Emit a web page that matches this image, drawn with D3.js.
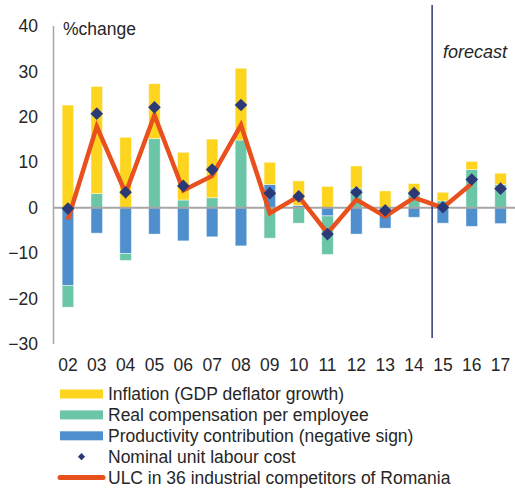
<!DOCTYPE html>
<html>
<head>
<meta charset="utf-8">
<script src="https://cdn.jsdelivr.net/npm/d3@7"></script>
<style>
  body { margin: 0; background: #fff; }
  svg { display: block; font-family: "Liberation Sans", Arial, sans-serif; }
</style>
</head>
<body>
<script>
// chart data
var years = ['02','03','04','05','06','07','08','09','10','11','12','13','14','15','16','17'];
var inflation    = [22.6, 23.6, 15.5, 12.1, 10.5, 12.9, 15.8, 4.9, 5.4, 4.7, 4.9, 3.7, 1.9, 1.9, 1.8, 2.5];
var realComp     = [-4.8, 3.1, -1.5, 15.2, 1.7, 2.2, 14.9, -6.7, -3.4, -8.5, 4.3, 0, 3.4, 1.5, 8.4, 5.1];
var productivity = [-17.1, -5.6, -10.1, -5.8, -7.3, -6.4, -8.4, 5.1, 0.5, -1.8, -5.8, -4.5, -2.1, -3.4, -4.1, -3.5];
var nominalUlc   = [-0.2, 20.7, 3.4, 22.1, 4.8, 8.4, 22.6, 3.2, 2.5, -5.8, 3.4, -0.6, 3.2, 0.1, 6.2, 4.2];
var competitors  = [-2.6, 17.9, 3.2, 20.4, 3.8, 7.0, 18.2, -1.2, 2.5, -5.6, 1.8, -1.9, 2.2, 0.0, 5.3, null];
var yTicks = [-30, -20, -10, 0, 10, 20, 30, 40];

var keys = ['prod', 'real', 'infl'];
var colors = { infl: '#FDD51F', real: '#6BC6A7', prod: '#4F8FCE' };
var legendItems = [
  { label: 'Inflation (GDP deflator growth)', kind: 'bar', color: colors.infl },
  { label: 'Real compensation per employee', kind: 'bar', color: colors.real },
  { label: 'Productivity contribution (negative sign)', kind: 'bar', color: colors.prod },
  { label: 'Nominal unit labour cost', kind: 'dot', color: '#2B3A77' },
  { label: 'ULC in 36 industrial competitors of Romania', kind: 'line', color: '#E8501E' }
];

var width = 515,
    height = 491;

var svg = d3.select('body').append('svg')
    .attr('width', width)
    .attr('height', height);

var rows = years.map(function(y, i) {
  return { year: y, infl: inflation[i], real: realComp[i], prod: productivity[i] };
});

var x = d3.scaleBand()
    .domain(years)
    .range([53.5, 515])
    .paddingInner(0.6)
    .paddingOuter(0.3);

var y = d3.scaleLinear()
    .domain([-30, 40])
    .range([344, 26]);

// stacked bars (positive and negative stacks separately)
var series = d3.stack()
    .keys(keys)
    .offset(d3.stackOffsetDiverging)(rows);

svg.append('g').selectAll('g')
    .data(series)
    .enter().append('g')
    .attr('fill', function(d) { return colors[d.key]; })
    .selectAll('rect')
    .data(function(d) { return d; })
    .enter().append('rect')
    .attr('x', function(d) { return x(d.data.year); })
    .attr('width', x.bandwidth())
    .attr('y', function(d) { return y(Math.max(d[0], d[1])); })
    .attr('height', function(d) { return Math.abs(y(d[0]) - y(d[1])); })
    .attr('stroke', 'rgba(255,255,255,0.55)')
    .attr('stroke-width', 0.8);

// y axis line and zero line
svg.append('line')
    .attr('x1', 53.5).attr('x2', 53.5)
    .attr('y1', y(40)).attr('y2', y(-30))
    .attr('stroke', '#A6A6A6').attr('stroke-width', 1.5);

svg.append('line')
    .attr('x1', 53.5).attr('x2', width)
    .attr('y1', y(0)).attr('y2', y(0))
    .attr('stroke', '#A6A6A6').attr('stroke-width', 2);

var yAxis = svg.append('g')
    .attr('transform', 'translate(38,0)')
    .call(d3.axisLeft(y).tickValues(yTicks).tickSize(0).tickPadding(0));
yAxis.select('.domain').remove();
yAxis.selectAll('text')
    .attr('font-size', 17.5)
    .attr('font-family', '"Liberation Sans", Arial, sans-serif')
    .attr('fill', '#262626');

var xAxis = svg.append('g')
    .attr('transform', 'translate(0,359)')
    .call(d3.axisBottom(x).tickSize(0).tickPadding(0));
xAxis.select('.domain').remove();
xAxis.selectAll('text')
    .attr('font-size', 17.5)
    .attr('font-family', '"Liberation Sans", Arial, sans-serif')
    .attr('fill', '#262626');

// forecast divider
var fx = x('15') - 5;
svg.append('line')
    .attr('x1', fx).attr('x2', fx)
    .attr('y1', 5).attr('y2', 338)
    .attr('stroke', '#2B3A77').attr('stroke-width', 1.5);

svg.append('text')
    .attr('x', 443).attr('y', 58)
    .attr('font-size', 18)
    .attr('font-style', 'italic')
    .attr('fill', '#262626')
    .text('forecast');

svg.append('text')
    .attr('x', 63).attr('y', 35)
    .attr('font-size', 17.5)
    .attr('fill', '#262626')
    .text('%change');

// competitors line
var line = d3.line()
    .defined(function(d) { return d != null; })
    .x(function(d, i) { return x(years[i]) + x.bandwidth() / 2; })
    .y(function(d) { return y(d); });

svg.append('path')
    .datum(competitors)
    .attr('fill', 'none')
    .attr('stroke', '#E8501E')
    .attr('stroke-width', 4.5)
    .attr('stroke-linejoin', 'miter')
    .attr('d', line);

// nominal ULC diamonds
var diamond = d3.symbol().type(d3.symbolSquare).size(80);
svg.append('g').selectAll('path')
    .data(nominalUlc)
    .enter().append('path')
    .attr('d', diamond)
    .attr('transform', function(d, i) {
        return 'translate(' + (x(years[i]) + x.bandwidth() / 2) + ',' + y(d) + ') rotate(45)'; })
    .attr('fill', '#2B3A77');

// legend
var legend = svg.append('g').selectAll('g')
    .data(legendItems)
    .enter().append('g')
    .attr('transform', function(d, i) { return 'translate(0,' + (394 + i * 20.9) + ')'; });

legend.each(function(d) {
  var g = d3.select(this);
  if (d.kind === 'bar') {
    g.append('rect').attr('x', 60).attr('y', -4.5).attr('width', 43).attr('height', 9).attr('fill', d.color);
  } else if (d.kind === 'line') {
    g.append('line').attr('x1', 60).attr('x2', 103).attr('y1', 0).attr('y2', 0)
      .attr('stroke', d.color).attr('stroke-width', 5).attr('stroke-linecap', 'round');
  } else {
    g.append('path').attr('d', d3.symbol().type(d3.symbolSquare).size(26))
      .attr('transform', 'translate(81.5,0) rotate(45)').attr('fill', d.color);
  }
  g.append('text')
    .attr('x', 108).attr('y', 0).attr('dy', '0.36em')
    .attr('font-size', 17.5)
    .attr('fill', '#262626')
    .text(d.label);
});
</script>
</body>
</html>
